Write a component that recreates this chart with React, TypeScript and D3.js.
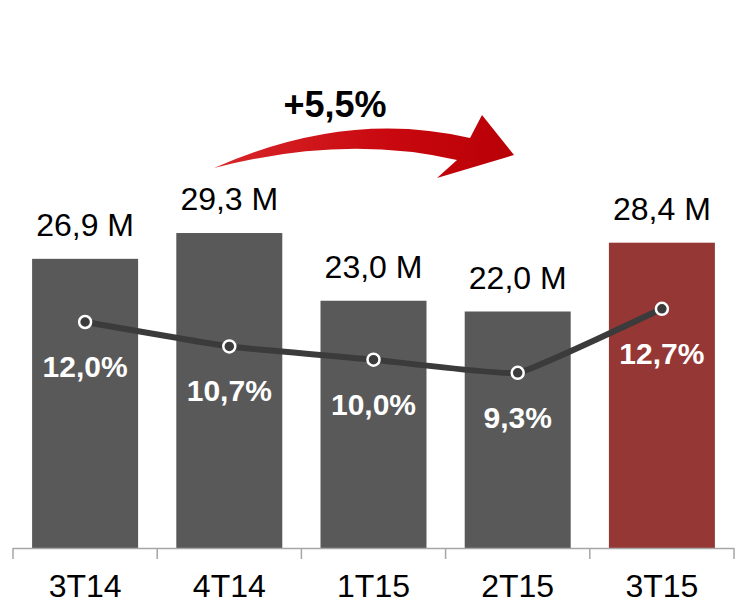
import React from "react";
import * as d3 from "d3";

const categories = ["3T14", "4T14", "1T15", "2T15", "3T15"];
const revenue = [26.9, 29.3, 23.0, 22.0, 28.4];
const revenueLabels = ["26,9 M", "29,3 M", "23,0 M", "22,0 M", "28,4 M"];
const margin = [12.0, 10.7, 10.0, 9.3, 12.7];
const marginLabels = ["12,0%", "10,7%", "10,0%", "9,3%", "12,7%"];
const growthLabel = "+5,5%";

const W = 748;
const H = 609;
const baseY = 548;

export default function App() {
  const x = d3
    .scaleBand<string>()
    .domain(categories)
    .range([13, 734])
    .paddingInner(0.265)
    .paddingOuter(0.1325);
  const y = d3.scaleLinear().domain([0, 30]).range([baseY, baseY - 322.5]);
  const yp = d3.scaleLinear().domain([0, 12]).range([baseY, 322]);

  const cx = (c: string) => (x(c) as number) + x.bandwidth() / 2;
  const pts: [number, number][] = categories.map((c, i) => [cx(c), yp(margin[i])]);
  const line = d3.line().curve(d3.curveCardinal.tension(0.7))(pts) || "";

  const step = x.step();
  const boundaries = d3.range(categories.length + 1).map(
    (i) => (x(categories[0]) as number) - x.paddingOuter() * step + i * step
  );

  const font = "'Liberation Sans', Arial, sans-serif";

  return (
    <svg
      width={W}
      height={H}
      style={{ position: "absolute", left: 0, top: 0, background: "#fff" }}
      fontFamily={font}
    >
      <defs>
        <linearGradient id="arrowGrad" x1="0" y1="0" x2="1" y2="0">
          <stop offset="0" stopColor="#d8262a" />
          <stop offset="0.6" stopColor="#c8080e" />
          <stop offset="1" stopColor="#b80006" />
        </linearGradient>
      </defs>

      {categories.map((c, i) => (
        <rect
          key={c}
          x={x(c)}
          y={y(revenue[i])}
          width={x.bandwidth()}
          height={baseY - y(revenue[i])}
          fill={i === categories.length - 1 ? "#953735" : "#595959"}
        />
      ))}

      {/* axis */}
      <line
        x1={boundaries[0]}
        x2={boundaries[boundaries.length - 1]}
        y1={baseY + 0.5}
        y2={baseY + 0.5}
        stroke="#a6a6a6"
        strokeWidth={1.5}
      />
      {boundaries.map((b, i) => (
        <line key={i} x1={b} x2={b} y1={baseY} y2={baseY + 11} stroke="#a6a6a6" strokeWidth={1.5} />
      ))}
      {categories.map((c) => (
        <text key={c} x={cx(c)} y={597} textAnchor="middle" fontSize={32} fill="#000">
          {c}
        </text>
      ))}

      {/* value labels */}
      {categories.map((c, i) => (
        <text key={c} x={cx(c)} y={y(revenue[i]) - 23} textAnchor="middle" fontSize={32} fill="#000">
          {revenueLabels[i]}
        </text>
      ))}

      {/* margin line */}
      <path d={line} fill="none" stroke="#3b3b3b" strokeWidth={6} strokeLinecap="round" />
      {pts.map((p, i) => (
        <circle key={i} cx={p[0]} cy={p[1]} r={6} fill="#3b3b3b" stroke="#fff" strokeWidth={2.5} />
      ))}
      {categories.map((c, i) => (
        <text
          key={c}
          x={cx(c)}
          y={yp(margin[i]) + 55}
          textAnchor="middle"
          fontSize={30}
          fontWeight="bold"
          fill="#fff"
        >
          {marginLabels[i]}
        </text>
      ))}

      {/* growth arrow */}
      <path
        d="M 214,168 Q 347,109 470,138 L 482,115 L 514,155 L 437,178 L 457,160 Q 344,134 214,168 Z"
        fill="url(#arrowGrad)"
      />
      <text x={335} y={117} textAnchor="middle" fontSize={36} fontWeight="bold" fill="#000">
        {growthLabel}
      </text>
    </svg>
  );
}
